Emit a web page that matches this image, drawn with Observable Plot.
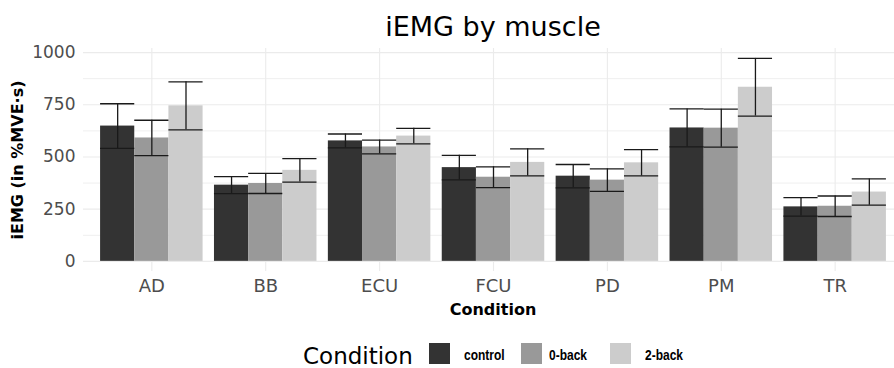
<!DOCTYPE html>
<html><head><meta charset="utf-8">
<script src="https://cdn.jsdelivr.net/npm/d3@7"></script>
<script src="https://cdn.jsdelivr.net/npm/@observablehq/plot@0.6"></script>
<style>
body{margin:0;background:#fff;}
#wrap{position:relative;width:894px;height:368px;overflow:hidden;font-family:"DejaVu Sans",sans-serif;background:#fff;}
.abs{position:absolute;white-space:nowrap;}
</style></head><body>
<div id="wrap">
  <div id="chart" class="abs" style="left:0;top:0"></div>
  <div class="abs" style="left:83px;width:820px;top:13px;text-align:center;font-size:27px;line-height:27px;color:#000">iEMG by muscle</div>
  <div class="abs" style="left:18px;top:159.5px;transform:translate(-50%,-50%) rotate(-90deg);font-size:16px;line-height:16px;font-weight:bold;color:#000">iEMG (in %MVE·s)</div>
  <div class="abs" style="left:83px;width:820px;top:302px;text-align:center;font-size:16px;line-height:16px;font-weight:bold;color:#000">Condition</div>
  <div class="abs" style="left:303px;top:345px;font-size:23px;line-height:23px;color:#000">Condition</div>
  <div id="legend"></div>
</div>
<script>
// ---- data ----
const muscles = ["AD", "BB", "ECU", "FCU", "PD", "PM", "TR"];
const conditions = ["control", "0-back", "2-back"];
const colors = ["#333333", "#999999", "#cccccc"];

const meanControl = [648, 365, 577, 449, 408, 639, 261];
const meanZeroBack = [591, 373, 548, 403, 389, 638, 264];
const meanTwoBack = [745, 436, 600, 474, 472, 834, 332];

const seControl = [107, 41, 33, 59, 56, 91, 44];
const seZeroBack = [85, 48, 33, 50, 54, 91, 49];
const seTwoBack = [115, 56, 37, 65, 63, 138, 63];

const yTicks = [0, 250, 500, 750, 1000];
const yMinorTicks = [125, 375, 625, 875];

// ---- build table ----
const means = [meanControl, meanZeroBack, meanTwoBack];
const ses = [seControl, seZeroBack, seTwoBack];
const dodge = 0.9, barW = dodge / conditions.length;
const rows = [];
muscles.forEach((m, i) => conditions.forEach((c, j) => rows.push({
  muscle: m, mi: i + 1, condition: c, ci: j, mean: means[j][i], se: ses[j][i]
})));
const left = d => d.mi - dodge / 2 + d.ci * barW;
const right = d => left(d) + barW;
const mid = d => left(d) + barW / 2;

const plot = Plot.plot({
  width: 894, height: 300,
  marginLeft: 83, marginRight: 0, marginTop: 48, marginBottom: 29,
  style: {fontFamily: "DejaVu Sans", background: "transparent", overflow: "visible"},
  x: {domain: [0.4, 7.521]},
  y: {domain: [-48.55, 1019.55]},
  color: {domain: conditions, range: colors},
  marks: [
    Plot.ruleY(yMinorTicks, {stroke: "#efefef", strokeWidth: 1}),
    Plot.ruleY(yTicks, {stroke: "#ebebeb", strokeWidth: 1.1}),
    Plot.ruleX(d3.range(1, muscles.length + 1), {stroke: "#ebebeb", strokeWidth: 1.1}),
    Plot.rect(rows, {x1: left, x2: right, y1: 0, y2: "mean", fill: "condition"}),
    Plot.ruleX(rows, {x: mid, y1: d => d.mean - d.se, y2: d => d.mean + d.se, stroke: "#1a1a1a", strokeWidth: 1.3}),
    Plot.ruleY(rows, {y: d => d.mean + d.se, x1: left, x2: right, stroke: "#1a1a1a", strokeWidth: 1.3}),
    Plot.ruleY(rows, {y: d => d.mean - d.se, x1: left, x2: right, stroke: "#1a1a1a", strokeWidth: 1.3}),
    Plot.axisY({ticks: yTicks, tickFormat: d => String(d), tickSize: 0, tickPadding: 8, fontSize: 17, color: "#4d4d4d", label: null}),
    Plot.axisX({ticks: d3.range(1, muscles.length + 1), tickFormat: i => muscles[i - 1], tickSize: 0, tickPadding: 8, fontSize: 18, color: "#4d4d4d", label: null})
  ]
});
document.getElementById("chart").appendChild(plot);

// ---- legend ----
const swatchX = [429, 520.5, 610];
const labelX = [464, 548.5, 645];
const legend = document.getElementById("legend");
conditions.forEach((c, j) => {
  const s = document.createElement("div");
  s.className = "abs";
  s.style.cssText = `left:${swatchX[j]}px;top:343px;width:21px;height:21px;background:${colors[j]}`;
  legend.appendChild(s);
  const t = document.createElement("div");
  t.className = "abs";
  t.style.cssText = `left:${labelX[j]}px;top:347px;font-family:'Liberation Sans',sans-serif;font-weight:bold;font-size:15px;line-height:15px;color:#000;transform:scaleX(0.8);transform-origin:0 50%`;
  t.textContent = c;
  legend.appendChild(t);
});
</script>
</body></html>
